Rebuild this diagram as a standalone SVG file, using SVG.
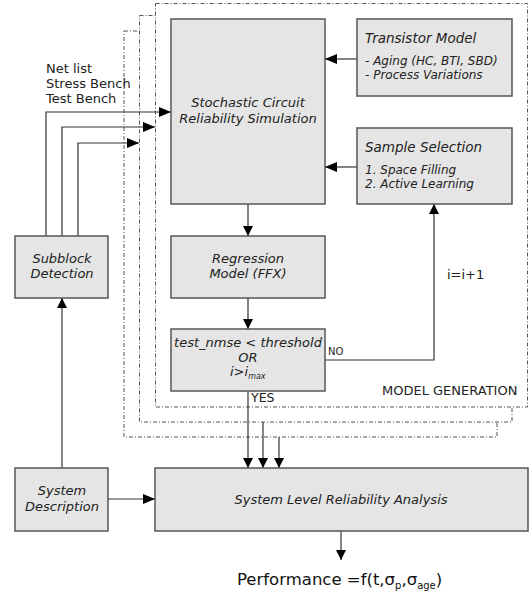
<svg xmlns="http://www.w3.org/2000/svg" width="529" height="594" viewBox="0 0 529 594">
<defs>
<style>
.box{fill:#e5e5e5;stroke:#555;stroke-width:1.5}
.frame{fill:#fff;stroke:#555;stroke-width:1;stroke-dasharray:4,2,1,2}
.ln{fill:none;stroke:#333;stroke-width:1.2}
.it{font-family:"DejaVu Sans",sans-serif;font-style:italic;font-size:13px;fill:#222}
.its{font-family:"DejaVu Sans",sans-serif;font-style:italic;font-size:12px;fill:#222}
.rg{font-family:"DejaVu Sans",sans-serif;font-size:12.5px;fill:#222}
</style>
<marker id="ah" viewBox="0 0 10 10" refX="10" refY="5" markerWidth="10" markerHeight="10" markerUnits="userSpaceOnUse" orient="auto"><path d="M0,0 L10,5 L0,10 z" fill="#000"/></marker>
<marker id="ahw" viewBox="0 0 12 10" refX="12" refY="5" markerWidth="12" markerHeight="10" markerUnits="userSpaceOnUse" orient="auto"><path d="M0,0 L12,5 L0,10 z" fill="#000"/></marker>
</defs>
<rect width="529" height="594" fill="#fff"/>
<g id="frames">
<rect class="frame" x="124" y="31" width="373" height="406"/>
<rect class="frame" x="139.5" y="15.5" width="372.5" height="406.5"/>
<rect class="frame" x="155.5" y="3.5" width="372" height="403.5"/>
<text class="rg" x="382" y="395" style="font-size:13px">MODEL GENERATION</text>
</g>
<g id="connectors">
<path class="ln" d="M46,236 V112 H171" marker-end="url(#ahw)"/>
<path class="ln" d="M62,236 V127 H155" marker-end="url(#ahw)"/>
<path class="ln" d="M78,236 V143 H139" marker-end="url(#ahw)"/>
<path class="ln" d="M357,59 H325" marker-end="url(#ahw)"/>
<path class="ln" d="M357,167 H325" marker-end="url(#ahw)"/>
<path class="ln" d="M248,204 V236" marker-end="url(#ah)"/>
<path class="ln" d="M248,298 V329" marker-end="url(#ah)"/>
<path class="ln" d="M325,360 H434 V204" marker-end="url(#ah)"/>
<path class="ln" d="M248,391 V468" marker-end="url(#ah)"/>
<path class="ln" d="M263,422 V468" marker-end="url(#ah)"/>
<path class="ln" d="M279,437 V468" marker-end="url(#ah)"/>
<path class="ln" d="M62,468 V298" marker-end="url(#ah)"/>
<path class="ln" d="M108,499 H155" marker-end="url(#ahw)"/>
<path class="ln" d="M341,531 V560" marker-end="url(#ah)"/>
<text class="rg" x="328" y="355" style="font-size:10px">NO</text>
<text class="rg" x="447" y="279" style="font-size:13px">i=i+1</text>
<text class="rg" x="251" y="402">YES</text>
<text class="rg" x="46" y="73" style="font-size:13px">Net list</text>
<text class="rg" x="46" y="88" style="font-size:13px">Stress Bench</text>
<text class="rg" x="46" y="103" style="font-size:13px">Test Bench</text>
</g>
<g id="stochastic">
<rect class="box" x="171" y="19" width="154" height="185"/>
<text class="it" x="248" y="107" text-anchor="middle">Stochastic Circuit</text>
<text class="it" x="248" y="123" text-anchor="middle">Reliability Simulation</text>
</g>
<g id="transistor">
<rect class="box" x="357" y="19" width="155" height="77"/>
<text class="it" x="365" y="43" style="font-size:13.5px">Transistor Model</text>
<text class="its" x="365" y="65">- Aging (HC, BTI, SBD)</text>
<text class="its" x="365" y="79">- Process Variations</text>
</g>
<g id="sample">
<rect class="box" x="357" y="128" width="155" height="76"/>
<text class="it" x="365" y="152" style="font-size:13.5px">Sample Selection</text>
<text class="its" x="365" y="174">1. Space Filling</text>
<text class="its" x="365" y="188">2. Active Learning</text>
</g>
<g id="regression">
<rect class="box" x="171" y="236" width="154" height="62"/>
<text class="it" x="248" y="263" text-anchor="middle">Regression</text>
<text class="it" x="248" y="278" text-anchor="middle">Model (FFX)</text>
</g>
<g id="test">
<rect class="box" x="171" y="329" width="154" height="62"/>
<text class="it" x="248" y="347" text-anchor="middle">test_nmse &lt; threshold</text>
<text class="it" x="248" y="362" text-anchor="middle">OR</text>
<text class="it" x="230" y="376">i&gt;i<tspan style="font-size:8px" dy="3">max</tspan></text>
</g>
<g id="subblock">
<rect class="box" x="15" y="236" width="93" height="62"/>
<text class="it" x="62" y="263" text-anchor="middle">Subblock</text>
<text class="it" x="62" y="278" text-anchor="middle">Detection</text>
</g>
<g id="sysdesc">
<rect class="box" x="15" y="468" width="93" height="63"/>
<text class="it" x="62" y="495" text-anchor="middle">System</text>
<text class="it" x="62" y="511" text-anchor="middle">Description</text>
</g>
<g id="syslevel">
<rect class="box" x="155" y="468" width="373" height="63"/>
<text class="it" x="341" y="504" text-anchor="middle">System Level Reliability Analysis</text>
</g>
<g id="performance">
<text x="237" y="585" style="font-family:'DejaVu Sans',sans-serif;font-size:16.5px;fill:#111">Performance =f(t,σ<tspan style="font-size:10px" dy="4">p</tspan><tspan dy="-4">,σ</tspan><tspan style="font-size:10px" dy="4">age</tspan><tspan dy="-4">)</tspan></text>
</g>
</svg>
